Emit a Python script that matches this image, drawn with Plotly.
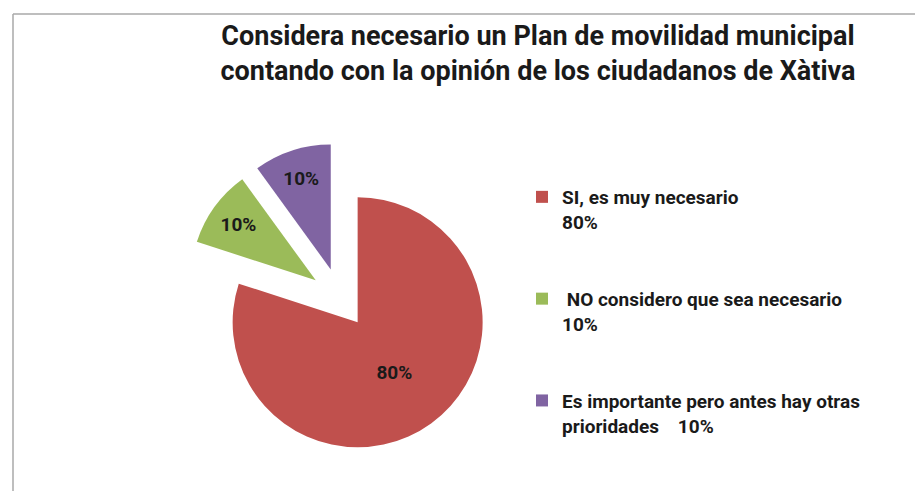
import plotly.graph_objects as go

# Survey answers, Xàtiva mobility plan
labels = [
    "SI, es muy necesario",
    " NO considero que sea necesario",
    "Es importante pero antes hay otras<br>prioridades   ",
]
values = [80, 10, 10]
colors = ["#C0504D", "#9BBB59", "#8064A2"]

W, H = 923, 491
FONT = "Roboto"

# legend entries: label, percentage, then spacer lines like the Excel legend
legend_text = [
    f"{labels[0]}<br>{values[0]}%<br>&nbsp;<br>&nbsp;",
    f"{labels[1]}<br>{values[1]}%<br>&nbsp;<br>&nbsp;",
    f"{labels[2]} {values[2]}%",
]

fig = go.Figure()
fig.add_trace(go.Pie(
    labels=legend_text,
    values=values,
    marker=dict(colors=colors, line=dict(width=0)),
    sort=False,
    direction="clockwise",
    rotation=0,
    pull=[0.24, 0.24, 0.24],
    texttemplate="%{percent:.0%}",
    textposition="inside",
    insidetextorientation="horizontal",
    textfont=dict(family=FONT, size=19, color="#1a1a1a", weight="bold"),
    hoverinfo="skip",
    domain=dict(x=[177 / W, 487 / W], y=[46 / H, 356 / H]),
))

# chart frame (top and left edges visible in the source crop)
fig.add_shape(type="line", xref="paper", yref="paper",
              x0=5 / W, x1=1, y0=1 - 6 / H, y1=1 - 6 / H,
              line=dict(color="#a8a8a8", width=1.5))
fig.add_shape(type="line", xref="paper", yref="paper",
              x0=5 / W, x1=5 / W, y0=0, y1=1 - 6 / H,
              line=dict(color="#a8a8a8", width=1.5))

fig.update_layout(
    width=W, height=H,
    paper_bgcolor="white",
    plot_bgcolor="white",
    margin=dict(l=0, r=0, t=0, b=0),
    title=dict(
        text="Considera necesario un Plan de movilidad municipal<br>"
             "contando con la opinión de los ciudadanos de Xàtiva",
        x=530 / W, xanchor="center",
        y=1 - 37 / H, yanchor="top",
        font=dict(family=FONT, size=27, color="#1a1a1a", weight="bold"),
    ),
    legend=dict(
        x=514 / W, xanchor="left",
        y=1 - 170 / H, yanchor="top",
        valign="top",
        font=dict(family=FONT, size=19, color="#1a1a1a", weight="bold"),
        itemsizing="constant",
        bgcolor="rgba(0,0,0,0)",
    ),
    showlegend=True,
)

fig.write_html("out.html")
